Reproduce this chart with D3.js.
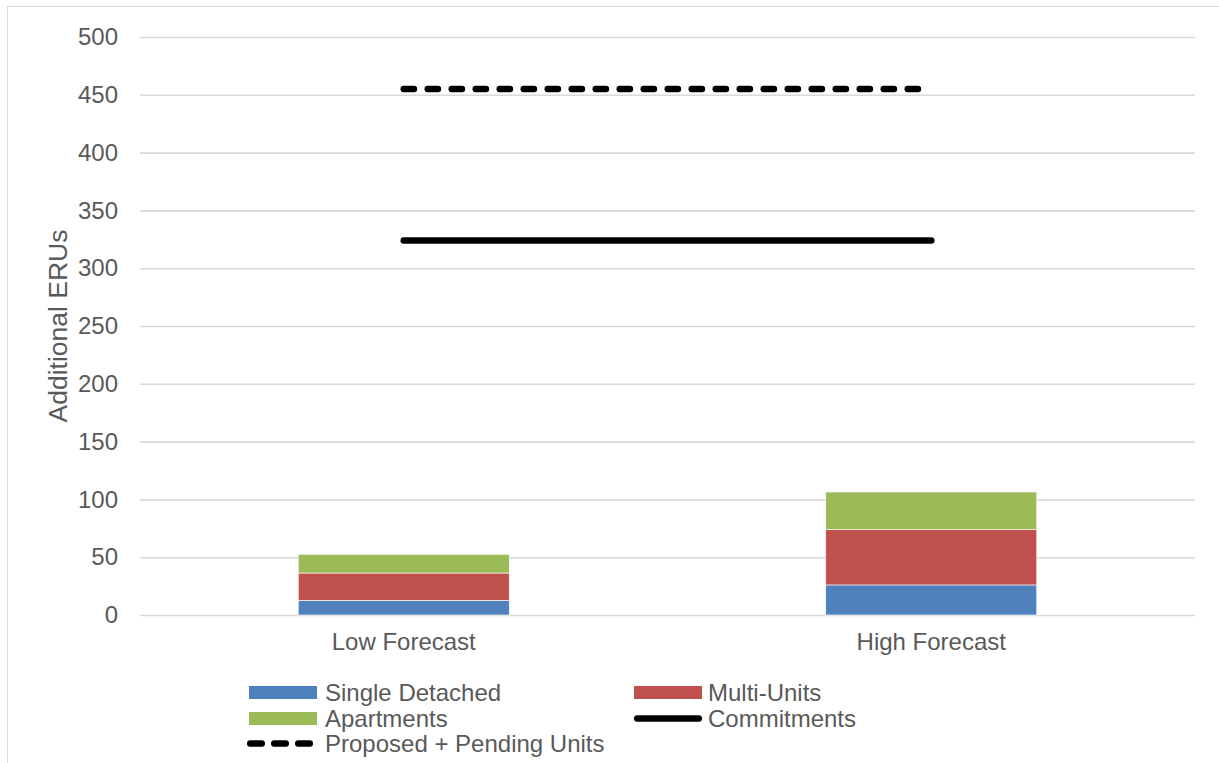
<!DOCTYPE html>
<html>
<head>
<meta charset="utf-8">
<script src="https://cdn.jsdelivr.net/npm/d3@7"></script>
<style>
  html, body { margin: 0; padding: 0; background: #fff; }
  svg { display: block; }
  text { font-family: "Liberation Sans", Arial, sans-serif; fill: #595959; }
</style>
</head>
<body>
<svg id="chart" width="1219" height="763"></svg>
<script>
// Forecast categories and stacked ERU components
const categories = ["Low Forecast", "High Forecast"];
const singleDetached = [12.7, 26.0];
const multiUnits = [23.6, 47.8];
const apartments = [16.2, 32.6];

// Reference levels, drawn from the first category centre to the second
const linePositions = [0, 1];
const commitments = [324, 324];
const proposedPending = [455, 455];

const yTicks = [0, 50, 100, 150, 200, 250, 300, 350, 400, 450, 500];

const seriesNames = ["Single Detached", "Multi-Units", "Apartments"];
const seriesColors = ["#4f81bd", "#c0504d", "#9bbb59"];

const svg = d3.select("#chart");
const W = 1219, H = 763;
const plot = { left: 140, right: 1195, top: 37, bottom: 615 };
const FS = 24;
const FONT = '"Liberation Sans", Arial, sans-serif';

// chart area border
svg.append("rect")
  .attr("x", 7.5).attr("y", 6.5)
  .attr("width", W + 20).attr("height", H + 20)
  .attr("fill", "none").attr("stroke", "#d9d9d9").attr("stroke-width", 1);

const x = d3.scaleBand().domain(categories).range([plot.left, plot.right]).padding(0);
const y = d3.scaleLinear().domain([0, 500]).range([plot.bottom, plot.top]);
const pos = d3.scaleLinear().domain([0, 1])
  .range([x(categories[0]) + x.bandwidth() / 2, x(categories[1]) + x.bandwidth() / 2]);

// gridlines + y tick labels
const yAxis = d3.axisLeft(y).tickValues(yTicks).tickSize(-(plot.right - plot.left)).tickPadding(22);
const gy = svg.append("g").attr("transform", `translate(${plot.left},0)`).call(yAxis);
gy.select(".domain").remove();
gy.selectAll(".tick line").attr("stroke", "#d9d9d9").attr("stroke-width", 1.6);
gy.selectAll(".tick text")
  .attr("font-size", FS).attr("fill", "#595959").style("font-family", FONT);

// category labels
const xAxis = d3.axisBottom(x).tickSize(0).tickPadding(18);
const gx = svg.append("g").attr("transform", `translate(0,${plot.bottom})`).call(xAxis);
gx.select(".domain").remove();
gx.selectAll(".tick text")
  .attr("font-size", FS).attr("fill", "#595959").style("font-family", FONT);

// y-axis title
svg.append("text")
  .attr("transform", `translate(58,${(plot.top + plot.bottom) / 2}) rotate(-90)`)
  .attr("text-anchor", "middle").attr("dominant-baseline", "central")
  .attr("font-size", 26.5)
  .text("Additional ERUs");

// stacked bars
const rows = categories.map((c, i) => ({
  category: c,
  "Single Detached": singleDetached[i],
  "Multi-Units": multiUnits[i],
  "Apartments": apartments[i]
}));
const stacked = d3.stack().keys(seriesNames)(rows);
const barW = x.bandwidth() * 0.4;
svg.append("g").selectAll("g")
  .data(stacked).join("g")
  .attr("fill", (d, i) => seriesColors[i])
  .selectAll("rect")
  .data(d => d).join("rect")
  .attr("x", d => x(d.data.category) + (x.bandwidth() - barW) / 2)
  .attr("width", barW)
  .attr("y", d => y(d[1]))
  .attr("height", d => y(d[0]) - y(d[1]))
  .attr("stroke", "#ffffff").attr("stroke-width", 0.6);

// reference lines
const LW = 6.5;
const DASH = "10.2,13.8";
const line = d3.line().x(d => pos(d[0])).y(d => y(d[1]));
svg.append("path")
  .datum(linePositions.map((p, i) => [p, commitments[i]]))
  .attr("d", line)
  .attr("fill", "none").attr("stroke", "#000").attr("stroke-width", LW)
  .attr("stroke-linecap", "round");
svg.append("path")
  .datum(linePositions.map((p, i) => [p, proposedPending[i]]))
  .attr("d", line)
  .attr("fill", "none").attr("stroke", "#000").attr("stroke-width", LW)
  .attr("stroke-linecap", "round").attr("stroke-dasharray", DASH);

// legend
const legendItems = [
  { name: "Single Detached", type: "rect", color: seriesColors[0], col: 0, row: 0 },
  { name: "Multi-Units", type: "rect", color: seriesColors[1], col: 1, row: 0 },
  { name: "Apartments", type: "rect", color: seriesColors[2], col: 0, row: 1 },
  { name: "Commitments", type: "solid", color: "#000", col: 1, row: 1 },
  { name: "Proposed + Pending Units", type: "dash", color: "#000", col: 0, row: 2 }
];
const colX = [249, 634];
const rowY = [692.5, 718.5, 743.5];
const symW = 68;
const lg = svg.append("g");
legendItems.forEach(it => {
  const sx = colX[it.col], cy = rowY[it.row];
  if (it.type === "rect") {
    lg.append("rect").attr("x", sx).attr("y", cy - 6.5)
      .attr("width", symW).attr("height", 13).attr("fill", it.color);
  } else {
    lg.append("line")
      .attr("x1", (it.type === "dash" ? sx - 2 : sx) + LW / 2).attr("x2", sx + symW - LW / 2)
      .attr("y1", cy).attr("y2", cy)
      .attr("stroke", it.color).attr("stroke-width", LW)
      .attr("stroke-linecap", "round")
      .attr("stroke-dasharray", it.type === "dash" ? "11.5,12.5" : null);
  }
  lg.append("text")
    .attr("x", sx + symW + (it.col === 0 ? 8 : 6)).attr("y", cy)
    .attr("dominant-baseline", "central")
    .attr("font-size", FS)
    .text(it.name);
});
</script>
</body>
</html>
